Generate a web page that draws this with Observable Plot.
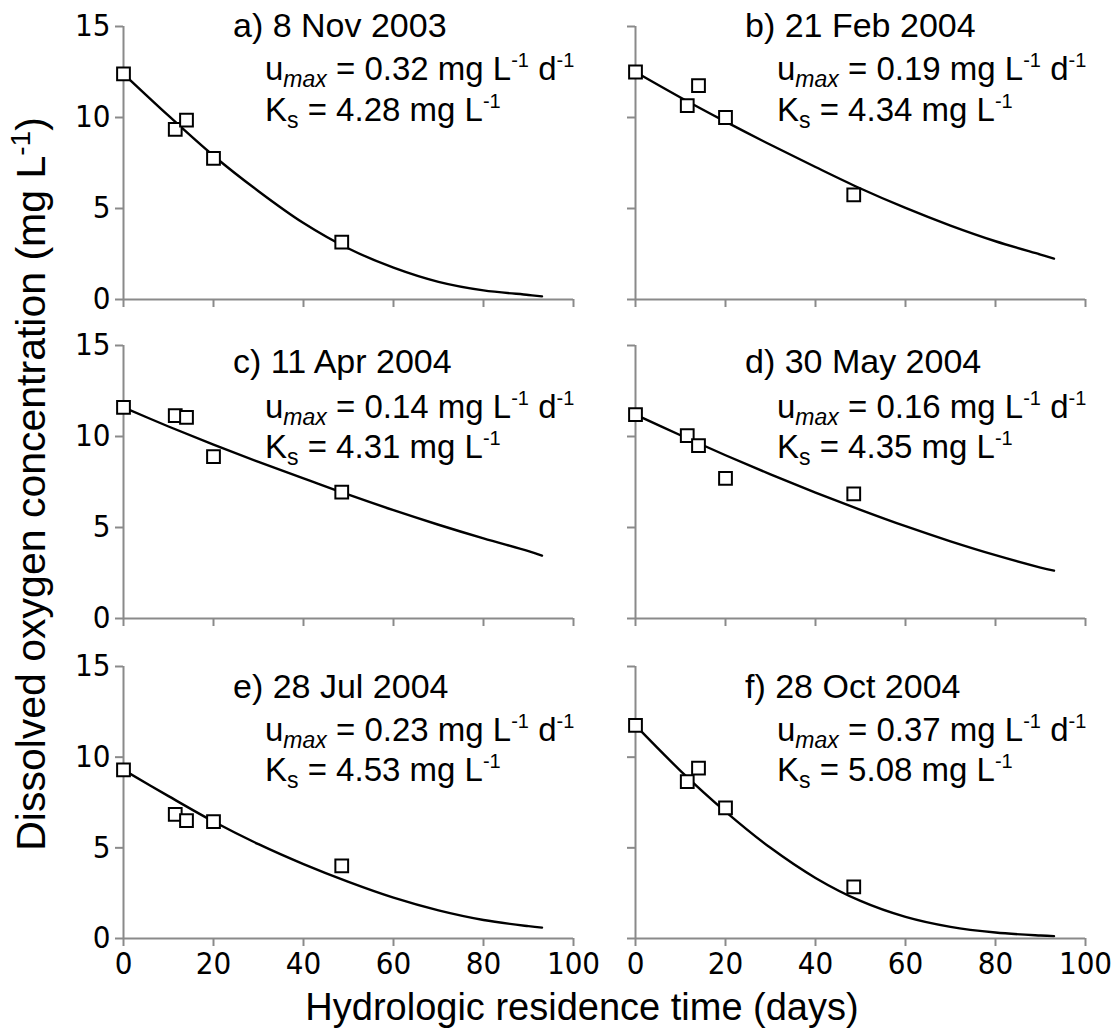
<!DOCTYPE html>
<html>
<head>
<meta charset="utf-8">
<script src="https://cdn.jsdelivr.net/npm/d3@7"></script>
<script src="https://cdn.jsdelivr.net/npm/@observablehq/plot@0.6"></script>
<style>
  html, body { margin: 0; padding: 0; background: #fff; }
  #fig { position: relative; width: 1120px; height: 1036px; background: #fff; overflow: hidden; }
  .panel { position: absolute; }
  .panel text { font-family: 'Liberation Sans Narrow', 'DejaVu Sans Condensed', 'Open Sans', sans-serif; font-size: 31px; }
  #overlay { position: absolute; left: 0; top: 0; pointer-events: none; }
</style>
</head>
<body>
<div id="fig"></div>
<script>
// ---------- data ----------
const panelTitles = ["a) 8 Nov 2003", "b) 21 Feb 2004", "c) 11 Apr 2004", "d) 30 May 2004", "e) 28 Jul 2004", "f) 28 Oct 2004"];
const umaxValues = ["0.32", "0.19", "0.14", "0.16", "0.23", "0.37"];
const ksValues = ["4.28", "4.34", "4.31", "4.35", "4.53", "5.08"];

const obsTime = [0, 11.5, 14, 20, 48.5];
const obsA = [12.4, 9.35, 9.85, 7.75, 3.15];
const obsB = [12.5, 10.65, 11.75, 10.0, 5.75];
const obsC = [11.6, 11.15, 11.05, 8.9, 6.95];
const obsD = [11.2, 10.05, 9.5, 7.7, 6.85];
const obsE = [9.3, 6.85, 6.5, 6.45, 4.0];
const obsF = [11.75, 8.65, 9.4, 7.2, 2.85];

const modelTime = [0, 10, 20, 30, 40, 50, 60, 70, 80, 90, 93];
const modelA = [12.4, 10.1, 7.9, 5.95, 4.2, 2.8, 1.75, 0.97, 0.5, 0.25, 0.17];
const modelB = [12.5, 11.1, 9.77, 8.5, 7.28, 6.1, 5.03, 4.06, 3.2, 2.47, 2.25];
const modelC = [11.6, 10.55, 9.55, 8.6, 7.7, 6.8, 5.95, 5.15, 4.4, 3.7, 3.45];
const modelD = [11.2, 10.07, 8.97, 7.92, 6.92, 5.97, 5.07, 4.24, 3.48, 2.8, 2.63];
const modelE = [9.3, 7.85, 6.45, 5.2, 4.1, 3.12, 2.25, 1.55, 1.02, 0.68, 0.6];
const modelF = [11.75, 9.25, 7.0, 5.0, 3.34, 2.07, 1.19, 0.64, 0.33, 0.165, 0.13];

const xTicks = [0, 20, 40, 60, 80, 100];
const yTicks = [0, 5, 10, 15];

const xLabel = "Hydrologic residence time (days)";
const yLabel = "Dissolved oxygen concentration (mg L";

// ---------- layout ----------
const obsSeries = [obsA, obsB, obsC, obsD, obsE, obsF];
const modelSeries = [modelA, modelB, modelC, modelD, modelE, modelF];
const gray = "#8a8a8a";
const cols = [
  {left: 0, width: 590, ml: 123, mr: 17},
  {left: 590, width: 530, ml: 45, mr: 35}
];
const rows = [
  {top: 0, height: 320, mt: 26, mb: 21, base: [37, 80, 121]},
  {top: 320, height: 320, mt: 25, mb: 22, base: [373, 418, 458]},
  {top: 640, height: 396, mt: 26, mb: 98, base: [698, 741, 781]}
];

const fig = document.getElementById("fig");

panelTitles.forEach((title, i) => {
  const ci = i % 2, ri = Math.floor(i / 2);
  const c = cols[ci], r = rows[ri];
  const obs = obsTime.map((t, k) => ({t, c: obsSeries[i][k]}));
  const model = modelTime.map((t, k) => ({t, c: modelSeries[i][k]}));
  const chart = Plot.plot({
    width: c.width,
    height: r.height,
    marginLeft: c.ml, marginRight: c.mr, marginTop: r.mt, marginBottom: r.mb,
    x: {domain: [0, 100], label: null},
    y: {domain: [0, 15], label: null},
    style: {background: "transparent", fontSize: "31px", color: "#000", overflow: "visible"},
    marks: [
      Plot.ruleY([0], {stroke: gray, strokeWidth: 2}),
      Plot.ruleX([0], {stroke: gray, strokeWidth: 2}),
      Plot.axisY({ticks: yTicks, tickSize: 8, stroke: gray, strokeWidth: 2, fill: "#000", tickPadding: 5,
        tickFormat: ci === 0 ? d => String(d) : () => "", label: null}),
      Plot.axisX({ticks: xTicks, tickSize: 8, stroke: gray, strokeWidth: 2, fill: "#000", tickPadding: 5,
        tickFormat: ri === 2 ? d => String(d) : () => "", label: null}),
      Plot.line(model, {x: "t", y: "c", stroke: "#000", strokeWidth: 2.4, curve: "catmull-rom"}),
      Plot.dot(obs, {x: "t", y: "c", symbol: "square", r: 7.2, fill: "#fff", stroke: "#000", strokeWidth: 2})
    ]
  });
  chart.classList.add("panel");
  chart.style.left = c.left + "px";
  chart.style.top = r.top + "px";
  fig.appendChild(chart);
});

// ---------- text overlay ----------
const svg = d3.select(fig).append("svg")
  .attr("id", "overlay")
  .attr("width", 1120).attr("height", 1036)
  .style("font-family", "'Liberation Sans', Arial, sans-serif")
  .attr("fill", "#000");

function rich(x, y, parts, size) {
  const t = svg.append("text").attr("x", x).attr("y", y).attr("font-size", size);
  let shift = 0;
  parts.forEach(p => {
    const target = p.shift || 0;
    const s = t.append("tspan").text(p.t).attr("dy", target - shift);
    if (p.size) s.attr("font-size", p.size);
    if (p.italic) s.attr("font-style", "italic");
    shift = target;
  });
  return t;
}

panelTitles.forEach((title, i) => {
  const ci = i % 2, ri = Math.floor(i / 2);
  const axisX = cols[ci].left + cols[ci].ml;
  const b = rows[ri].base;
  rich(axisX + 110, b[0], [{t: title}], 34);
  rich(axisX + 142, b[1], [
    {t: "u"},
    {t: "max", size: 23, italic: true, shift: 7},
    {t: " = " + umaxValues[i] + " mg L"},
    {t: "-1", size: 20, shift: -13},
    {t: " d"},
    {t: "-1", size: 20, shift: -13}
  ], 33);
  rich(axisX + 142, b[2], [
    {t: "K"},
    {t: "s", size: 23, shift: 7},
    {t: " = " + ksValues[i] + " mg L"},
    {t: "-1", size: 20, shift: -13}
  ], 33);
});

// axis titles
svg.append("text")
  .attr("x", 582).attr("y", 1020)
  .attr("text-anchor", "middle")
  .attr("font-size", 38)
  .text(xLabel);

const yl = svg.append("text")
  .attr("transform", "translate(45,484) rotate(-90)")
  .attr("text-anchor", "middle")
  .attr("font-size", 41);
yl.append("tspan").text(yLabel);
yl.append("tspan").text("-1").attr("font-size", 28).attr("dy", -15);
yl.append("tspan").text(")").attr("dy", 15);
</script>
</body>
</html>
